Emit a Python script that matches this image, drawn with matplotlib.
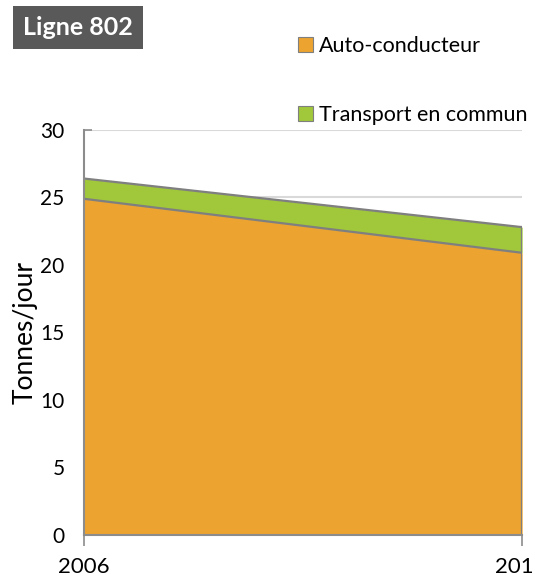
#!/usr/bin/env python3
"""
Ligne 802 - emissions par mode (aire empilee)
"""
import matplotlib.pyplot as plt
import matplotlib.transforms as mtransforms
from matplotlib.patches import Patch

years = [2006, 2016]
year_labels = ["2006", "201"]
auto = [24.9, 20.9]
transport = [1.5, 1.9]

orange = "#EDA330"
green = "#A0C83A"
edge = "#7F7F7F"

plt.rcParams["font.family"] = ["Lato", "DejaVu Sans"]

fig = plt.figure(figsize=(5.35, 5.77), dpi=100)
ax = fig.add_axes([0.157, 0.0728, 0.819, 0.702])

total = [a + t for a, t in zip(auto, transport)]
ax.fill_between(years, 0, auto, color=orange, linewidth=0, zorder=2)
ax.fill_between(years, auto, total, color=green, linewidth=0, zorder=2)
ax.plot(years, auto, color=edge, linewidth=1.6, zorder=3)
ax.plot(years, total, color=edge, linewidth=1.6, zorder=3)
ax.plot([years[1], years[1]], [0, total[1]], color=edge, linewidth=1.6, zorder=3)

ax.set_xlim(years[0], years[1])
ax.set_ylim(0, 30)
ax.set_yticks(range(0, 31, 5))
ax.set_xticks(years)
ax.set_xticklabels(year_labels)
ax.yaxis.grid(True, color="#D9D9D9", linewidth=1.5, zorder=0)
ax.set_axisbelow(True)

for s in ["top", "right"]:
    ax.spines[s].set_visible(False)
for s in ["left", "bottom"]:
    ax.spines[s].set_color("#8C8C8C")
    ax.spines[s].set_linewidth(1.5)
    ax.spines[s].set_zorder(4)

ax.tick_params(axis="y", direction="in", length=6, color="#8C8C8C", width=1.2,
               labelsize=15, pad=14)
ax.tick_params(axis="x", direction="out", length=8, color="#8C8C8C", width=1.2,
               labelsize=16, pad=8)
# last year label sits against the right edge
shift = mtransforms.ScaledTranslation(-8 / 100, 0, fig.dpi_scale_trans)
last = ax.get_xticklabels()[1]
last.set_transform(last.get_transform() + shift)
ax.set_ylabel("Tonnes/jour", fontsize=19, labelpad=2)

fig.text(0.146, 0.952, "Ligne 802", fontsize=18, fontweight="bold",
         color="white", ha="center", va="center",
         bbox=dict(boxstyle="square,pad=0.4", facecolor="#595959", edgecolor="none"))

handles = [Patch(facecolor=orange, edgecolor=edge, linewidth=0.8),
           Patch(facecolor=green, edgecolor=edge, linewidth=0.8)]
fig.legend(handles, ["Auto-conducteur", "Transport en commun"],
           loc="upper left", bbox_to_anchor=(0.54, 0.952), frameon=False,
           fontsize=15.5, handlelength=0.7, handleheight=0.7, handletextpad=0.3,
           labelspacing=2.25, borderaxespad=0)

fig.savefig("out.png", dpi=100)
